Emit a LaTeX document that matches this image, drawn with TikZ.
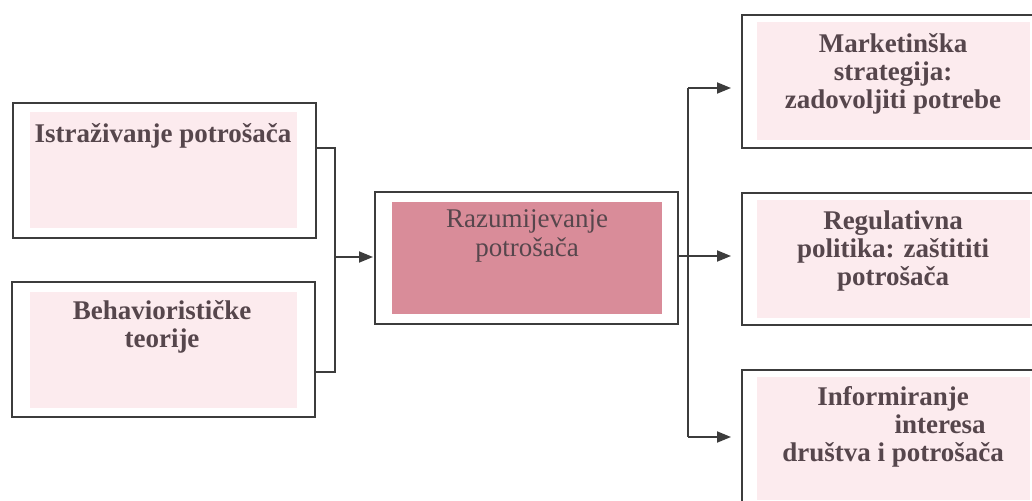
\documentclass[tikz,border=0pt]{standalone}
\usepackage{fontspec}
\setmainfont{Liberation Serif}
\usetikzlibrary{arrows.meta}
\definecolor{edgecol}{HTML}{3C3C3C}
\definecolor{lightpink}{HTML}{FCEBEE}
\definecolor{midpink}{HTML}{D98C99}
\definecolor{txtcol}{HTML}{56464C}
\begin{document}
\begin{tikzpicture}[x=1pt,y=-1pt,
  boxstyle/.style={rectangle,draw=edgecol,line width=2pt,fill=white,minimum width=303pt,inner sep=0pt},
  txtstyle/.style={text=txtcol,font=\fontsize{27}{28}\selectfont\bfseries,align=center,inner sep=0pt},
  txtreg/.style={text=txtcol,font=\fontsize{27}{29}\selectfont,align=center,inner sep=0pt},
  wire/.style={draw=edgecol,line width=1.8pt},
  arrstyle/.style={wire,-{Triangle[length=14pt,width=11pt]}}]
\useasboundingbox (0,0) rectangle (1032,500);
\fill[white] (0,0) rectangle (1032,500);
% boxes
\node[boxstyle,minimum height=135pt] (L1) at (164.5,170.5) {};
\node[boxstyle,minimum height=135pt] (L2) at (163.5,349.5) {};
\node[boxstyle,minimum height=132pt] (C) at (526.5,258) {};
\node[boxstyle,minimum height=133pt] (R1) at (893.5,81.5) {};
\node[boxstyle,minimum height=132pt] (R2) at (893.5,259) {};
\node[boxstyle,minimum height=133pt] (R3) at (893.5,436.5) {};
% inner fills
\fill[lightpink] (30,112) rectangle (297,228);
\fill[lightpink] (30,292) rectangle (297,408);
\fill[midpink] (392,202) rectangle (662,314);
\fill[lightpink] (757,22) rectangle (1030,140);
\fill[lightpink] (757,200) rectangle (1030,318);
\fill[lightpink] (757,377) rectangle (1030,500);
% texts
\node[txtstyle] (tL1) at (163,135.5) {Istraživanje potrošača};
\node[txtstyle] (tL2) at (162,326.5) {Behaviorističke\\teorije};
\node[txtreg] (tC) at (527,236) {Razumijevanje\\potrošača};
\node[txtstyle] (tR1) at (893,73.5) {Marketinška\\strategija:\\zadovoljiti potrebe};
\node[txtstyle] (tR2) at (893,251.5) {Regulativna\\politika: zaštititi\\potrošača};
\node[txtstyle] (tR3) at (893,426.5) {Informiranje\\\hspace*{94pt}interesa\\društva i potrošača};
% connectors left
\coordinate (ja) at (335,148);
\coordinate (jb) at (335,372);
\coordinate (jm) at (335,257);
\draw[wire] (L1.east |- ja) -- (ja) -- (jb) -- (L2.east |- jb);
\draw[arrstyle,shorten >=1pt] (jm) -- (C.west |- jm);
% connectors right
\coordinate (km) at (688,256);
\coordinate (kt) at (688,88);
\coordinate (kb) at (688,437);
\draw[wire] (C.east |- km) -- (km);
\draw[wire] (kt) -- (kb);
\draw[arrstyle,shorten >=10pt] (kt) -- (R1.west |- kt);
\draw[arrstyle,shorten >=10pt] (km) -- (R2.west |- km);
\draw[arrstyle,shorten >=10pt] (kb) -- (R3.west |- kb);
\end{tikzpicture}
\end{document}
